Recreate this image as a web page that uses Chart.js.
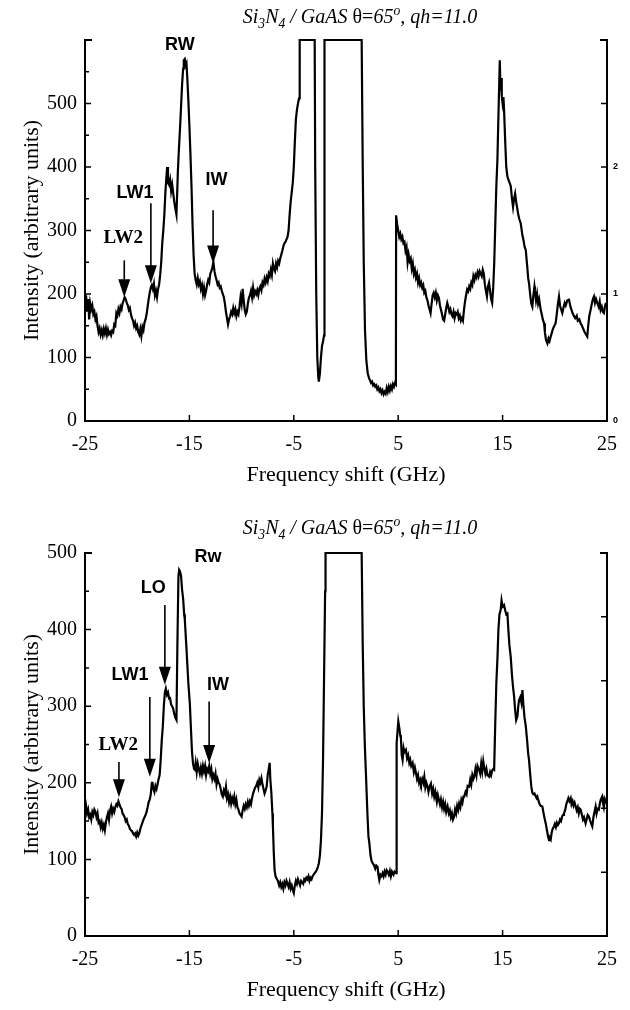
<!DOCTYPE html>
<html>
<head>
<meta charset="utf-8">
<script src="https://cdn.jsdelivr.net/npm/chart.js@4.4.1/dist/chart.umd.min.js"></script>
<style>
body { margin: 0; background: #fff; }
#page { position: relative; width: 630px; height: 1010px; overflow: hidden; }
.panel { position: absolute; left: 0; width: 630px; }
.title { position: absolute; left: 360px; transform: translateX(-50%); white-space: nowrap;
  font: 20px "Liberation Serif", serif; line-height: 22px; color: #000; }
.title sub, .title sup { font-size: 68%; line-height: 0; }
</style>
</head>
<body>
<div id="page">
  <div class="panel" style="top:0;height:495px"><canvas id="topChart" width="630" height="495"></canvas></div>
  <div class="panel" style="top:495px;height:515px"><canvas id="botChart" width="630" height="515"></canvas></div>
  <div class="title" style="top:5px"><i>Si<sub>3</sub>N<sub>4</sub> / GaAS</i> θ=<i>65<sup>o</sup>, qh=11.0</i></div>
  <div class="title" style="top:516px"><i>Si<sub>3</sub>N<sub>4</sub> / GaAS</i> θ=<i>65<sup>o</sup>, qh=11.0</i></div>
</div>
<script>
// axis ticks
var xTicks = [-25, -15, -5, 5, 15, 25];
var topYTicks = [0, 100, 200, 300, 400, 500];
var topYMinor = [50, 150, 250, 350, 450, 550, 600];
var botYTicks = [0, 100, 200, 300, 400, 500];
var botYMinor = [50, 150, 250, 350, 450];
var rightTicks = [0, 0.5, 1, 1.5, 2, 2.5, 3];
var topRightLabels = [0, 1, 2];

// upper spectrum
var freqTop = [
-25.0,-24.9,-24.8,-24.7,-24.6,-24.5,-24.4,-24.3,-24.2,-24.1,-24.0,-23.9,-23.8,-23.7,-23.6,-23.5,-23.4,-23.3,-23.2,-23.1,
-23.0,-22.9,-22.8,-22.7,-22.6,-22.5,-22.4,-22.3,-22.2,-22.1,-22.0,-21.9,-21.8,-21.7,-21.6,-21.5,-21.4,-21.3,-21.2,-21.1,
-21.0,-20.9,-20.8,-20.7,-20.6,-20.5,-20.4,-20.3,-20.2,-20.1,-20.0,-19.9,-19.8,-19.7,-19.6,-19.5,-19.4,-19.3,-19.2,-19.1,
-19.0,-18.9,-18.8,-18.7,-18.6,-18.5,-18.4,-18.3,-18.2,-18.1,-18.0,-17.9,-17.8,-17.7,-17.6,-17.5,-17.4,-17.3,-17.2,-17.13,
-17.05,-16.95,-16.85,-16.75,-16.65,-16.56,-16.45,-16.35,-16.24,-16.1,-16.0,-15.9,-15.8,-15.7,-15.6,-15.54,-15.45,-15.35,-15.28,-15.2,
-15.1,-15.0,-14.9,-14.8,-14.7,-14.6,-14.5,-14.4,-14.3,-14.2,-14.1,-14.0,-13.9,-13.8,-13.7,-13.6,-13.5,-13.4,-13.3,-13.2,
-13.1,-13.0,-12.9,-12.8,-12.7,-12.6,-12.5,-12.4,-12.3,-12.2,-12.1,-12.0,-11.9,-11.8,-11.7,-11.6,-11.5,-11.4,-11.3,-11.2,
-11.1,-11.0,-10.9,-10.8,-10.7,-10.6,-10.5,-10.4,-10.3,-10.2,-10.1,-10.0,-9.9,-9.8,-9.7,-9.6,-9.5,-9.4,-9.3,-9.2,
-9.1,-9.0,-8.9,-8.8,-8.7,-8.6,-8.5,-8.4,-8.3,-8.2,-8.1,-8.0,-7.9,-7.8,-7.7,-7.6,-7.5,-7.4,-7.3,-7.2,
-7.1,-7.0,-6.9,-6.8,-6.7,-6.6,-6.5,-6.4,-6.3,-6.2,-6.1,-6.0,-5.9,-5.8,-5.7,-5.6,-5.5,-5.4,-5.3,-5.2,
-5.1,-5.0,-4.9,-4.8,-4.7,-4.6,-4.5,-4.45,-4.42,-3.0,-2.95,-2.85,-2.75,-2.65,-2.6,-2.5,-2.4,-2.3,-2.2,-2.1,
-2.06,1.5,1.6,1.7,1.82,1.95,2.08,2.2,2.3,2.4,2.5,2.6,2.7,2.8,2.9,3.0,3.1,3.2,3.3,3.4,
3.5,3.6,3.7,3.8,3.9,4.0,4.1,4.2,4.3,4.4,4.5,4.6,4.7,4.78,4.8,4.9,5.0,5.1,5.2,5.3,
5.4,5.5,5.6,5.7,5.8,5.9,6.0,6.1,6.2,6.3,6.4,6.5,6.6,6.7,6.8,6.9,7.0,7.1,7.2,7.3,
7.4,7.5,7.6,7.7,7.8,7.9,8.0,8.1,8.2,8.3,8.4,8.5,8.6,8.7,8.8,8.9,9.0,9.1,9.2,9.3,
9.4,9.5,9.6,9.7,9.8,9.9,10.0,10.1,10.2,10.3,10.4,10.5,10.6,10.7,10.8,10.9,11.0,11.1,11.2,11.3,
11.4,11.5,11.6,11.7,11.8,11.9,12.0,12.1,12.2,12.3,12.4,12.5,12.6,12.7,12.8,12.9,13.0,13.1,13.2,13.3,
13.4,13.5,13.6,13.7,13.8,13.9,14.0,14.1,14.2,14.3,14.4,14.5,14.6,14.73,14.8,14.85,14.92,15.0,15.08,15.14,
15.25,15.35,15.46,15.6,15.7,15.78,15.9,16.0,16.1,16.2,16.3,16.4,16.5,16.6,16.74,16.9,17.0,17.1,17.22,17.35,
17.45,17.53,17.65,17.75,17.85,17.95,18.05,18.1,18.2,18.3,18.4,18.5,18.65,18.75,18.85,18.97,19.05,19.15,19.29,19.4,
19.5,19.61,19.7,19.8,19.9,20.08,20.2,20.3,20.4,20.5,20.6,20.72,20.85,20.95,21.05,21.2,21.36,21.5,21.6,21.7,
21.84,21.95,22.1,22.2,22.35,22.47,22.6,22.7,22.85,23.0,23.11,23.2,23.3,23.43,23.55,23.65,23.75,23.85,23.95,24.07,
24.2,24.3,24.39,24.5,24.6,24.7,24.8,24.9
];
var intTop = [
180,198,172,192,160,185,176,182,168,172,160,165,150,140,146,136,143,135,145,138,
146,136,144,137,140,135,142,140,152,150,170,166,176,170,180,176,185,190,195,192,
186,182,175,178,168,162,158,150,155,146,150,140,136,145,134,148,143,155,160,168,
180,192,202,210,214,208,216,198,205,195,208,215,230,250,280,300,325,360,385,400,
375,372,380,362,372,360,345,335,325,395,430,460,495,530,555,568,570,560,563,540,
505,465,420,370,310,262,232,222,215,225,215,220,208,214,200,210,198,205,215,222,
218,232,236,242,250,236,228,222,215,218,210,212,205,200,195,185,172,162,152,160,
165,172,168,178,170,176,165,172,168,180,195,185,208,190,175,168,172,185,194,198,
205,195,210,198,204,200,206,198,208,212,206,218,214,224,218,226,220,232,228,238,
230,248,240,236,248,242,252,248,256,262,268,275,280,282,286,290,300,325,345,360,
375,400,440,475,490,500,508,512,600,600,400,200,100,68,62,75,100,118,125,135,
600,600,406,250,143,95,75,68,64,60,62,56,58,54,56,50,53,47,50,44,
48,42,46,43,52,46,54,48,55,50,58,54,60,58,324,310,300,290,295,286,
290,280,282,268,274,250,262,252,256,240,248,232,238,226,232,218,225,214,218,210,
214,202,205,195,190,182,176,170,185,198,202,195,202,190,198,194,182,175,168,160,
158,168,178,186,180,172,176,168,165,172,162,170,168,172,162,166,158,162,158,175,
188,198,207,204,212,208,218,214,228,222,230,226,234,228,236,232,228,238,232,215,
205,196,212,218,205,192,186,210,250,310,370,410,480,568,520,540,511,500,510,490,
440,400,385,378,374,370,350,337,350,358,345,335,325,318,311,292,285,275,269,245,
225,217,198,185,180,198,212,205,190,200,185,192,175,168,160,154,140,128,122,130,
126,133,138,144,148,154,170,185,196,182,176,170,180,186,182,190,191,180,175,170,
165,162,166,158,160,154,150,146,140,136,133,150,165,175,185,192,196,186,192,186,
180,188,175,180,172,170,180,186
];

// lower spectrum
var freqBot = [
-25.0,-24.9,-24.8,-24.7,-24.6,-24.5,-24.4,-24.3,-24.2,-24.1,-24.0,-23.9,-23.8,-23.7,-23.6,-23.5,-23.4,-23.3,-23.2,-23.1,
-23.0,-22.9,-22.8,-22.7,-22.6,-22.5,-22.4,-22.3,-22.2,-22.1,-22.0,-21.9,-21.8,-21.7,-21.6,-21.5,-21.4,-21.3,-21.2,-21.1,
-21.0,-20.9,-20.8,-20.7,-20.6,-20.5,-20.4,-20.3,-20.2,-20.1,-20.0,-19.9,-19.8,-19.7,-19.6,-19.5,-19.4,-19.3,-19.2,-19.1,
-19.0,-18.9,-18.8,-18.7,-18.6,-18.53,-18.45,-18.35,-18.25,-18.15,-18.05,-17.95,-17.85,-17.75,-17.65,-17.55,-17.45,-17.35,-17.26,-17.15,
-17.05,-16.95,-16.87,-16.75,-16.65,-16.56,-16.45,-16.35,-16.24,-16.15,-16.05,-15.98,-15.9,-15.8,-15.7,-15.6,-15.5,-15.44,-15.3,-15.2,
-15.1,-14.96,-14.85,-14.75,-14.65,-14.55,-14.48,-14.4,-14.3,-14.2,-14.1,-14.0,-13.9,-13.8,-13.7,-13.6,-13.5,-13.4,-13.3,-13.2,
-13.1,-13.0,-12.9,-12.8,-12.7,-12.6,-12.5,-12.4,-12.3,-12.2,-12.1,-12.0,-11.9,-11.8,-11.7,-11.6,-11.5,-11.4,-11.3,-11.2,
-11.1,-11.0,-10.9,-10.8,-10.7,-10.6,-10.5,-10.4,-10.3,-10.2,-10.1,-10.0,-9.9,-9.8,-9.7,-9.6,-9.5,-9.4,-9.3,-9.2,
-9.1,-9.0,-8.9,-8.8,-8.7,-8.6,-8.5,-8.4,-8.3,-8.2,-8.1,-8.0,-7.9,-7.8,-7.7,-7.6,-7.5,-7.4,-7.31,-7.25,
-7.15,-7.05,-7.0,-6.92,-6.84,-6.75,-6.65,-6.52,-6.4,-6.3,-6.2,-6.1,-6.0,-5.9,-5.8,-5.7,-5.6,-5.5,-5.4,-5.3,
-5.2,-5.1,-5.0,-4.9,-4.8,-4.7,-4.6,-4.5,-4.4,-4.3,-4.2,-4.1,-4.0,-3.9,-3.8,-3.7,-3.6,-3.5,-3.4,-3.3,
-3.2,-3.1,-3.0,-2.9,-2.8,-2.7,-2.6,-2.5,-2.4,-2.3,-2.2,-2.1,-2.0,-1.96,1.5,1.6,1.7,1.8,1.92,2.05,
2.15,2.24,2.35,2.45,2.56,2.7,2.8,2.9,3.03,3.1,3.19,3.3,3.4,3.51,3.6,3.7,3.8,3.9,3.99,4.1,
4.2,4.3,4.4,4.47,4.55,4.65,4.79,4.85,5.01,5.1,5.2,5.26,5.34,5.42,5.52,5.6,5.74,5.85,5.95,6.06,
6.15,6.25,6.38,6.5,6.6,6.7,6.8,6.9,7.0,7.1,7.18,7.3,7.4,7.5,7.6,7.7,7.81,7.9,8.0,8.13,
8.25,8.35,8.45,8.55,8.61,8.7,8.8,8.9,9.0,9.09,9.2,9.3,9.4,9.5,9.6,9.73,9.85,9.95,10.05,10.15,
10.25,10.36,10.45,10.55,10.65,10.75,10.84,10.95,11.05,11.15,11.25,11.32,11.45,11.55,11.65,11.8,11.9,12.0,12.1,12.2,
12.28,12.4,12.5,12.6,12.75,12.85,12.95,13.05,13.15,13.23,13.35,13.45,13.55,13.71,13.8,13.9,14.0,14.1,14.19,14.3,
14.4,14.51,14.6,14.7,14.82,14.9,15.0,15.14,15.25,15.35,15.46,15.55,15.65,15.78,15.9,16.0,16.1,16.2,16.3,16.42,
16.5,16.58,16.7,16.8,16.9,17.0,17.1,17.22,17.35,17.45,17.53,17.65,17.75,17.85,17.95,18.05,18.15,18.25,18.33,18.45,
18.55,18.65,18.81,18.9,19.0,19.13,19.25,19.35,19.45,19.53,19.61,19.7,19.8,19.92,20.0,20.1,20.2,20.3,20.4,20.5,
20.6,20.7,20.8,20.88,21.0,21.1,21.2,21.3,21.4,21.52,21.6,21.7,21.8,21.9,22.0,22.1,22.2,22.3,22.4,22.47,
22.6,22.7,22.8,22.95,23.05,23.15,23.27,23.4,23.5,23.59,23.7,23.8,23.91,24.0,24.1,24.22,24.3,24.4,24.54,24.6,
24.7,24.8,24.9
];
var intBot = [
162,170,160,165,155,158,152,162,158,165,162,155,160,148,150,142,148,140,145,138,
148,155,160,152,164,169,160,166,162,168,172,170,176,172,168,166,160,158,155,150,
152,146,144,140,138,137,134,132,134,130,135,131,134,140,144,148,152,155,158,162,
168,175,178,185,200,200,192,188,196,192,198,205,210,230,255,273,300,318,323,315,
318,310,312,302,300,297,290,285,282,380,470,478,476,470,452,440,420,413,380,355,
330,304,270,240,225,218,217,226,214,225,218,212,220,212,222,215,222,210,218,215,
222,212,218,205,210,205,212,198,205,200,198,192,185,182,190,186,195,180,185,175,
182,173,180,175,182,172,178,168,165,160,158,156,164,170,166,172,168,175,170,176,
172,180,186,190,194,196,200,194,204,200,206,198,192,186,190,195,210,218,226,205,
187,160,143,110,86,78,75,72,66,70,64,68,62,70,66,72,68,64,70,62,
66,60,56,66,72,68,74,70,66,72,70,68,74,72,76,74,78,72,76,74,
78,80,82,84,86,90,95,105,125,160,230,340,450,500,500,382,300,250,208,160,
130,121,105,98,95,92,88,92,90,80,73,80,78,82,78,84,80,86,84,80,
85,78,84,82,80,84,82,252,280,272,262,258,236,230,245,240,243,232,236,226,
230,222,226,214,220,213,205,210,200,204,199,205,200,208,194,200,195,188,195,199,
186,192,182,188,182,175,184,178,172,178,168,175,166,172,162,169,160,164,155,160,
152,156,165,160,170,165,173,168,178,174,182,182,188,185,196,195,204,198,210,205,
208,218,210,222,217,212,225,215,228,221,212,218,210,208,214,210,216,218,217,280,
330,364,400,420,426,438,430,432,425,420,421,400,380,364,340,325,313,295,282,287,
300,308,312,305,321,300,285,274,255,238,230,210,195,187,185,186,183,180,182,176,
172,170,169,162,155,147,138,130,125,128,126,135,140,143,146,142,148,145,147,152,
150,156,158,160,165,172,176,180,176,180,172,176,170,174,169,164,168,160,166,165,
158,152,155,147,152,158,156,150,146,143,155,162,169,160,166,165,172,178,182,175,
168,178,173
];

// peak labels and arrows
var topMarkText = ['RW', 'LW1', 'LW2', 'IW'];
var topMarkX = [-15.92, -20.22, -21.33, -12.41];
var topMarkY = [592, 359, 288, 380];
var topArrowX = [-18.69, -21.24, -12.73];
var topArrowFrom = [343, 253, 332];
var topArrowTo = [217, 195, 248];

var botMarkText = ['Rw', 'LO', 'LW1', 'LW2', 'IW'];
var botMarkX = [-13.21, -18.47, -20.7, -21.81, -12.25];
var botMarkY = [495, 454, 341, 249, 328];
var botArrowX = [-17.35, -18.79, -21.75, -13.11];
var botArrowFrom = [432, 312, 227, 306];
var botArrowTo = [328, 208, 181, 226];

var serif = '"Liberation Serif", "Times New Roman", serif';
var sans = '"Liberation Sans", Arial, sans-serif';

function makeFrame(cfg) {
  return {
    id: 'frame',
    afterDraw: function (chart) {
      var ctx = chart.ctx, a = chart.chartArea;
      var sx = chart.scales.x, sy = chart.scales.y, s2 = chart.scales.y2;
      var L = a.left, R = a.right, T = a.top, B = a.bottom;
      ctx.save();
      ctx.strokeStyle = '#000';
      ctx.fillStyle = '#000';
      ctx.lineWidth = 2;
      ctx.beginPath();
      ctx.moveTo(L + 7, T); ctx.lineTo(L, T); ctx.lineTo(L, B);
      ctx.lineTo(R, B); ctx.lineTo(R, T); ctx.lineTo(R - 7, T);
      ctx.stroke();

      ctx.lineWidth = 1.5;
      ctx.beginPath();
      cfg.yTicks.forEach(function (v) {
        var p = sy.getPixelForValue(v); ctx.moveTo(L, p); ctx.lineTo(L + 6, p);
      });
      cfg.yMinor.forEach(function (v) {
        var p = sy.getPixelForValue(v); ctx.moveTo(L, p); ctx.lineTo(L + 4, p);
      });
      xTicks.slice(1, -1).forEach(function (v) {
        var p = sx.getPixelForValue(v); ctx.moveTo(p, B); ctx.lineTo(p, B - 6);
      });
      rightTicks.forEach(function (v) {
        var p = s2.getPixelForValue(v); ctx.moveTo(R, p); ctx.lineTo(R - 6, p);
      });
      ctx.stroke();

      // arrows
      cfg.arrowX.forEach(function (v, i) {
        var x = sx.getPixelForValue(v);
        var y0 = sy.getPixelForValue(cfg.arrowFrom[i]);
        var y1 = sy.getPixelForValue(cfg.arrowTo[i]);
        ctx.lineWidth = 1.6;
        ctx.beginPath(); ctx.moveTo(x, y0); ctx.lineTo(x, y1 - 14); ctx.stroke();
        ctx.beginPath();
        ctx.moveTo(x - 6, y1 - 18); ctx.lineTo(x + 6, y1 - 18); ctx.lineTo(x, y1);
        ctx.closePath(); ctx.fill();
      });

      // labels
      ctx.textAlign = 'center';
      ctx.textBaseline = 'middle';
      cfg.markText.forEach(function (t, i) {
        ctx.font = cfg.markSerif.indexOf(t) >= 0 ? 'bold 19px ' + serif : 'bold 18px ' + sans;
        ctx.fillText(t, sx.getPixelForValue(cfg.markX[i]), sy.getPixelForValue(cfg.markY[i]));
      });
      ctx.restore();
    }
  };
}

function makeChart(id, freq, inten, cfg) {
  var pts = freq.map(function (f, i) { return { x: f, y: inten[i] }; });
  return new Chart(document.getElementById(id), {
    type: 'line',
    data: {
      datasets: [{
        data: pts, borderColor: '#000', borderWidth: 2.2, pointRadius: 0,
        tension: 0, fill: false, clip: 4
      }]
    },
    options: {
      responsive: false,
      animation: false,
      layout: { padding: { top: cfg.padTop, left: 0, right: 0, bottom: 0 } },
      plugins: { legend: { display: false }, tooltip: { enabled: false } },
      scales: {
        x: {
          type: 'linear', min: -25, max: 25,
          grid: { display: false, drawTicks: false },
          border: { display: false },
          afterBuildTicks: function (s) { s.ticks = xTicks.map(function (v) { return { value: v }; }); },
          afterFit: function (s) { s.height = 74; },
          ticks: {
            color: '#000', padding: 12, maxRotation: 0, autoSkip: false,
            font: { family: serif, size: 20 },
            callback: function (v) { return String(v); }
          },
          title: {
            display: true, text: 'Frequency shift (GHz)', color: '#000',
            font: { family: serif, size: 22 }, padding: { top: 0, bottom: 7 }
          }
        },
        y: {
          type: 'linear', position: 'left', min: 0, max: cfg.yMax,
          grid: { display: false, drawTicks: false },
          border: { display: false },
          afterBuildTicks: function (s) { s.ticks = cfg.yTicks.map(function (v) { return { value: v }; }); },
          afterFit: function (s) { s.width = 85; },
          ticks: {
            color: '#000', padding: 8, autoSkip: false,
            font: { family: serif, size: 20 },
            callback: function (v) { return String(v); }
          },
          title: {
            display: true, text: 'Intensity (arbitrary units)', color: '#000',
            font: { family: serif, size: 22 }, padding: { top: 19, bottom: 0 }
          }
        },
        y2: {
          type: 'linear', position: 'right', min: 0, max: 3,
          grid: { display: false, drawTicks: false },
          border: { display: false },
          afterBuildTicks: function (s) { s.ticks = cfg.rightLabels.map(function (v) { return { value: v }; }); },
          afterFit: function (s) { s.width = 23; },
          ticks: {
            display: cfg.rightLabels.length > 0,
            color: '#000', padding: 6, autoSkip: false,
            font: { family: sans, size: 9, weight: 'bold' },
            callback: function (v) { return String(v); }
          }
        }
      }
    },
    plugins: [makeFrame(cfg)]
  });
}

makeChart('topChart', freqTop, intTop, {
  padTop: 40, yMax: 600, yTicks: topYTicks, yMinor: topYMinor, rightLabels: topRightLabels,
  markText: topMarkText, markX: topMarkX, markY: topMarkY, markSerif: ['LW2'],
  arrowX: topArrowX, arrowFrom: topArrowFrom, arrowTo: topArrowTo
});
makeChart('botChart', freqBot, intBot, {
  padTop: 58, yMax: 500, yTicks: botYTicks, yMinor: botYMinor, rightLabels: [],
  markText: botMarkText, markX: botMarkX, markY: botMarkY, markSerif: ['LW2'],
  arrowX: botArrowX, arrowFrom: botArrowFrom, arrowTo: botArrowTo
});
</script>
</body>
</html>
